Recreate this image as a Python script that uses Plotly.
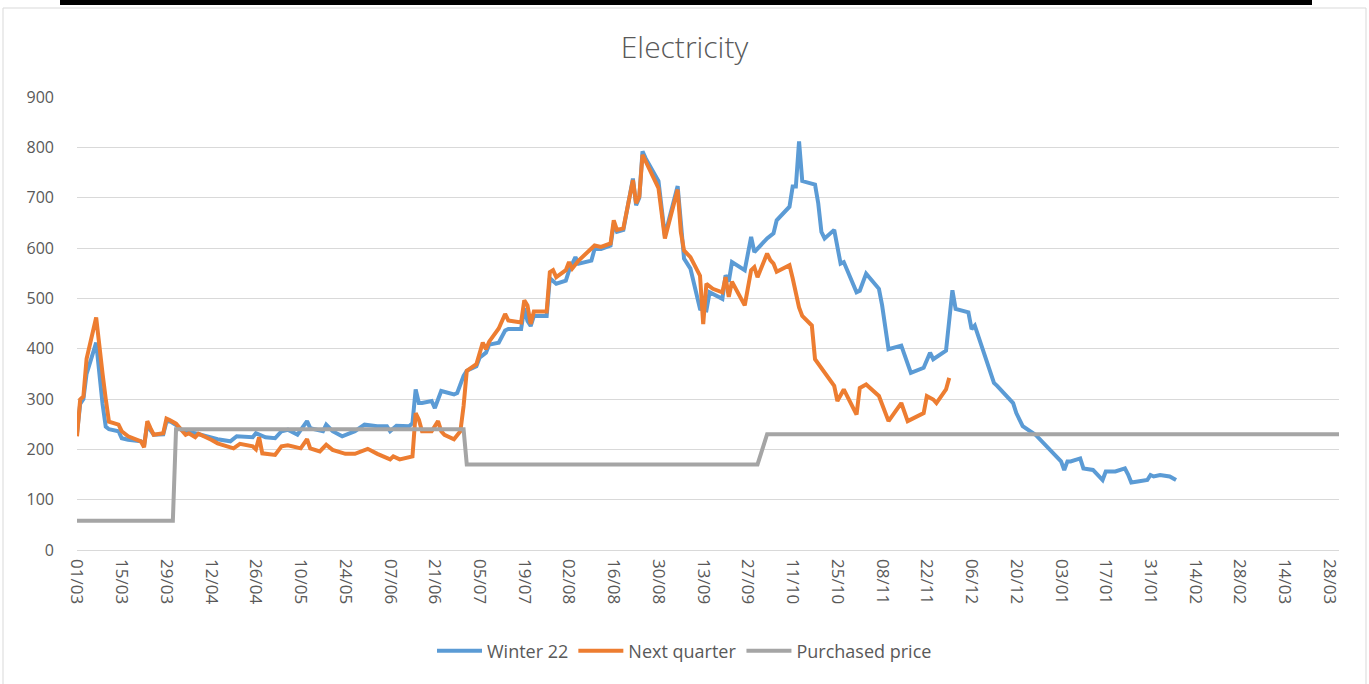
import plotly.graph_objects as go

# ---------------- data ----------------
winter_dates = [
    "2022-03-01", "2022-03-02", "2022-03-03", "2022-03-04", "2022-03-07", "2022-03-08", "2022-03-09",
    "2022-03-10", "2022-03-11", "2022-03-14", "2022-03-15", "2022-03-17", "2022-03-21", "2022-03-22",
    "2022-03-23", "2022-03-24", "2022-03-25", "2022-03-28", "2022-03-29", "2022-03-30", "2022-03-31",
    "2022-04-01", "2022-04-04", "2022-04-05", "2022-04-07", "2022-04-11", "2022-04-14", "2022-04-18",
    "2022-04-20", "2022-04-25", "2022-04-26", "2022-04-29", "2022-05-02", "2022-05-04", "2022-05-06",
    "2022-05-09", "2022-05-12", "2022-05-13", "2022-05-17", "2022-05-18", "2022-05-20", "2022-05-23",
    "2022-05-25", "2022-05-27", "2022-05-30", "2022-06-03", "2022-06-06", "2022-06-07", "2022-06-09",
    "2022-06-13", "2022-06-14", "2022-06-15", "2022-06-16", "2022-06-17", "2022-06-20", "2022-06-21",
    "2022-06-23", "2022-06-27", "2022-06-28", "2022-06-30", "2022-07-01", "2022-07-04", "2022-07-05",
    "2022-07-07", "2022-07-08", "2022-07-11", "2022-07-13", "2022-07-14", "2022-07-18", "2022-07-19",
    "2022-07-20", "2022-07-21", "2022-07-22", "2022-07-26", "2022-07-27", "2022-07-29", "2022-08-01",
    "2022-08-02", "2022-08-04", "2022-08-05", "2022-08-09", "2022-08-10", "2022-08-12", "2022-08-15",
    "2022-08-16", "2022-08-17", "2022-08-19", "2022-08-22", "2022-08-23", "2022-08-24", "2022-08-25",
    "2022-08-26", "2022-08-30", "2022-09-01", "2022-09-05", "2022-09-07", "2022-09-09", "2022-09-12",
    "2022-09-14", "2022-09-15", "2022-09-19", "2022-09-20", "2022-09-21", "2022-09-22", "2022-09-26",
    "2022-09-28", "2022-09-29", "2022-10-03", "2022-10-05", "2022-10-06", "2022-10-10", "2022-10-11",
    "2022-10-12", "2022-10-13", "2022-10-14", "2022-10-18", "2022-10-19", "2022-10-20", "2022-10-21",
    "2022-10-24", "2022-10-26", "2022-10-27", "2022-10-31", "2022-11-01", "2022-11-03", "2022-11-07",
    "2022-11-08", "2022-11-10", "2022-11-14", "2022-11-17", "2022-11-21", "2022-11-23", "2022-11-24",
    "2022-11-28", "2022-11-30", "2022-12-01", "2022-12-05", "2022-12-06", "2022-12-07", "2022-12-08",
    "2022-12-09", "2022-12-13", "2022-12-14", "2022-12-19", "2022-12-20", "2022-12-22", "2022-12-26",
    "2022-12-28", "2023-01-03", "2023-01-04", "2023-01-05", "2023-01-06", "2023-01-09", "2023-01-10",
    "2023-01-13", "2023-01-16", "2023-01-17", "2023-01-20", "2023-01-23", "2023-01-24", "2023-01-25",
    "2023-01-27", "2023-01-30", "2023-01-31", "2023-02-01", "2023-02-03", "2023-02-06", "2023-02-08",
]
winter_values = [
    232, 290, 300, 350, 412, 340, 290,
    245, 240, 236, 222, 219, 216, 208,
    250, 238, 229, 230, 255, 256, 252,
    248, 232, 234, 232, 225, 220, 216,
    226, 224, 232, 224, 222, 236, 239,
    229, 256, 242, 236, 249, 236, 226,
    232, 236, 249, 246, 246, 236, 247,
    246, 252, 319, 292, 292, 296, 282,
    316, 309, 312, 346, 356, 365, 382,
    392, 408, 412, 436, 439, 439, 480,
    455, 445, 465, 465, 540, 529, 535,
    555, 582, 569, 575, 598, 598, 605,
    648, 632, 636, 738, 685, 700, 792,
    778, 733, 625, 723, 579, 559, 479,
    476, 512, 499, 546, 533, 572, 556,
    622, 592, 619, 629, 655, 682, 722,
    722, 812, 733, 726, 689, 632, 619,
    636, 569, 572, 512, 515, 549, 519,
    486, 399, 406, 352, 362, 392, 379,
    396, 516, 479, 472, 439, 446, 426,
    409, 332, 326, 292, 272, 246, 229,
    216, 176, 159, 176, 176, 182, 162,
    159, 139, 156, 156, 162, 150, 134,
    136, 139, 149, 146, 149, 146, 139,
]

next_dates = [
    "2022-03-01", "2022-03-02", "2022-03-03", "2022-03-04", "2022-03-07", "2022-03-08", "2022-03-09",
    "2022-03-10", "2022-03-11", "2022-03-14", "2022-03-15", "2022-03-17", "2022-03-21", "2022-03-22",
    "2022-03-23", "2022-03-24", "2022-03-25", "2022-03-28", "2022-03-29", "2022-03-30", "2022-03-31",
    "2022-04-01", "2022-04-04", "2022-04-05", "2022-04-07", "2022-04-08", "2022-04-12", "2022-04-14",
    "2022-04-19", "2022-04-21", "2022-04-25", "2022-04-26", "2022-04-27", "2022-04-28", "2022-05-02",
    "2022-05-04", "2022-05-06", "2022-05-10", "2022-05-12", "2022-05-13", "2022-05-16", "2022-05-18",
    "2022-05-20", "2022-05-24", "2022-05-27", "2022-05-31", "2022-06-03", "2022-06-07", "2022-06-08",
    "2022-06-10", "2022-06-14", "2022-06-15", "2022-06-16", "2022-06-17", "2022-06-20", "2022-06-22",
    "2022-06-23", "2022-06-24", "2022-06-27", "2022-06-29", "2022-06-30", "2022-07-01", "2022-07-04",
    "2022-07-05", "2022-07-06", "2022-07-07", "2022-07-08", "2022-07-11", "2022-07-12", "2022-07-13",
    "2022-07-14", "2022-07-18", "2022-07-19", "2022-07-20", "2022-07-21", "2022-07-22", "2022-07-26",
    "2022-07-27", "2022-07-28", "2022-07-29", "2022-08-01", "2022-08-02", "2022-08-03", "2022-08-05",
    "2022-08-10", "2022-08-12", "2022-08-15", "2022-08-16", "2022-08-17", "2022-08-19", "2022-08-22",
    "2022-08-23", "2022-08-24", "2022-08-25", "2022-08-26", "2022-08-30", "2022-09-01", "2022-09-05",
    "2022-09-06", "2022-09-07", "2022-09-09", "2022-09-12", "2022-09-13", "2022-09-14", "2022-09-16",
    "2022-09-19", "2022-09-20", "2022-09-21", "2022-09-22", "2022-09-26", "2022-09-28", "2022-09-29",
    "2022-09-30", "2022-10-03", "2022-10-04", "2022-10-05", "2022-10-06", "2022-10-10", "2022-10-11",
    "2022-10-12", "2022-10-13", "2022-10-14", "2022-10-17", "2022-10-18", "2022-10-20", "2022-10-24",
    "2022-10-25", "2022-10-27", "2022-10-31", "2022-11-01", "2022-11-03", "2022-11-07", "2022-11-10",
    "2022-11-14", "2022-11-16", "2022-11-21", "2022-11-22", "2022-11-24", "2022-11-25", "2022-11-28",
    "2022-11-29",
]
next_values = [
    226, 299, 305, 380, 462, 400, 350,
    300, 255, 249, 236, 226, 216, 204,
    256, 242, 229, 232, 261, 258, 255,
    251, 229, 232, 224, 231, 219, 212,
    202, 211, 206, 200, 224, 192, 189,
    206, 208, 202, 220, 202, 196, 209,
    199, 191, 191, 201, 191, 180, 186,
    180, 186, 272, 259, 236, 236, 256,
    236, 229, 220, 236, 286, 356, 369,
    389, 412, 399, 414, 440, 455, 469,
    456, 452, 496, 486, 449, 474, 474,
    552, 556, 542, 556, 572, 559, 575,
    605, 602, 609, 655, 636, 639, 735,
    689, 703, 785, 772, 719, 619, 716,
    632, 595, 582, 545, 449, 529, 519,
    512, 542, 503, 533, 486, 556, 562,
    542, 589, 576, 569, 553, 566, 540,
    510, 482, 465, 446, 379, 362, 326,
    296, 319, 269, 322, 329, 306, 256,
    292, 256, 272, 306, 299, 292, 319,
    342,
]

purchased_dates = [
    "2022-03-01", "2022-03-31", "2022-04-01", "2022-06-30",
    "2022-07-01", "2022-09-30", "2022-10-03", "2023-03-31",
]
purchased_values = [58, 58, 240, 240, 170, 170, 230, 230]

series_names = ["Winter 22", "Next quarter", "Purchased price"]
series_colors = ["#5B9BD5", "#ED7D31", "#A5A5A5"]

# ---------------- figure ----------------
W, H = 1369, 684
L, R, T, B = 77, 30, 97, 134
pw, ph = W - L - R, H - T - B


def px_x(x):
    return (x - L) / pw


def px_y(y):
    return (H - B - y) / ph


FONT = "Open Sans, Noto Sans, sans-serif"
TXT = "#595959"

fig = go.Figure()
for name, xs, ys, col in zip(
    series_names,
    [winter_dates, next_dates, purchased_dates],
    [winter_values, next_values, purchased_values],
    series_colors,
):
    fig.add_trace(
        go.Scatter(
            x=xs, y=ys, mode="lines", name=name,
            line=dict(color=col, width=4, shape="linear"),
        )
    )

fig.update_layout(
    width=W, height=H,
    margin=dict(l=L, r=R, t=T, b=B, pad=0),
    paper_bgcolor="white", plot_bgcolor="white",
    font=dict(family=FONT, color=TXT),
    title=dict(
        text="Electricity", x=0.5, xref="container", xanchor="center",
        y=1 - 47 / H, yref="container", yanchor="middle",
        font=dict(size=30, color=TXT, family=FONT, weight=300),
    ),
    showlegend=True,
    legend=dict(
        orientation="h", x=0.5, xanchor="center", xref="container",
        y=1 - 651 / H, yref="container", yanchor="middle",
        font=dict(size=18, color=TXT, family=FONT),
        itemwidth=45, traceorder="normal",
    ),
    xaxis=dict(
        type="date",
        range=["2022-03-01", "2023-03-31"],
        tick0="2022-03-01",
        dtick=14 * 24 * 3600 * 1000,
        tickformat="%d/%m",
        tickangle=90,
        showgrid=False, zeroline=False, showline=False,
        ticks="",
        ticklabelstandoff=8,
        tickfont=dict(size=17, color=TXT, family=FONT),
    ),
    yaxis=dict(
        range=[0, 900], dtick=100, tick0=0,
        showgrid=True, gridcolor="#D9D9D9", gridwidth=1,
        zeroline=True, zerolinecolor="#D9D9D9", zerolinewidth=1,
        showline=False, ticks="",
        ticklabelstandoff=22,
        tickfont=dict(size=16, color=TXT, family=FONT),
    ),
    shapes=[
        dict(type="rect", xref="paper", yref="paper",
             x0=px_x(3), x1=px_x(1366), y0=px_y(690), y1=px_y(8),
             line=dict(color="#D9D9D9", width=1), fillcolor="rgba(0,0,0,0)", layer="below"),
        dict(type="rect", xref="paper", yref="paper",
             x0=px_x(60), x1=px_x(1312), y0=px_y(5), y1=px_y(0),
             line=dict(width=0), fillcolor="black", layer="above"),
    ],
)

fig.write_html(
    "out.html",
    config={"displayModeBar": False},
    post_script="document.body.style.margin='0';document.body.style.overflow='hidden';",
)
